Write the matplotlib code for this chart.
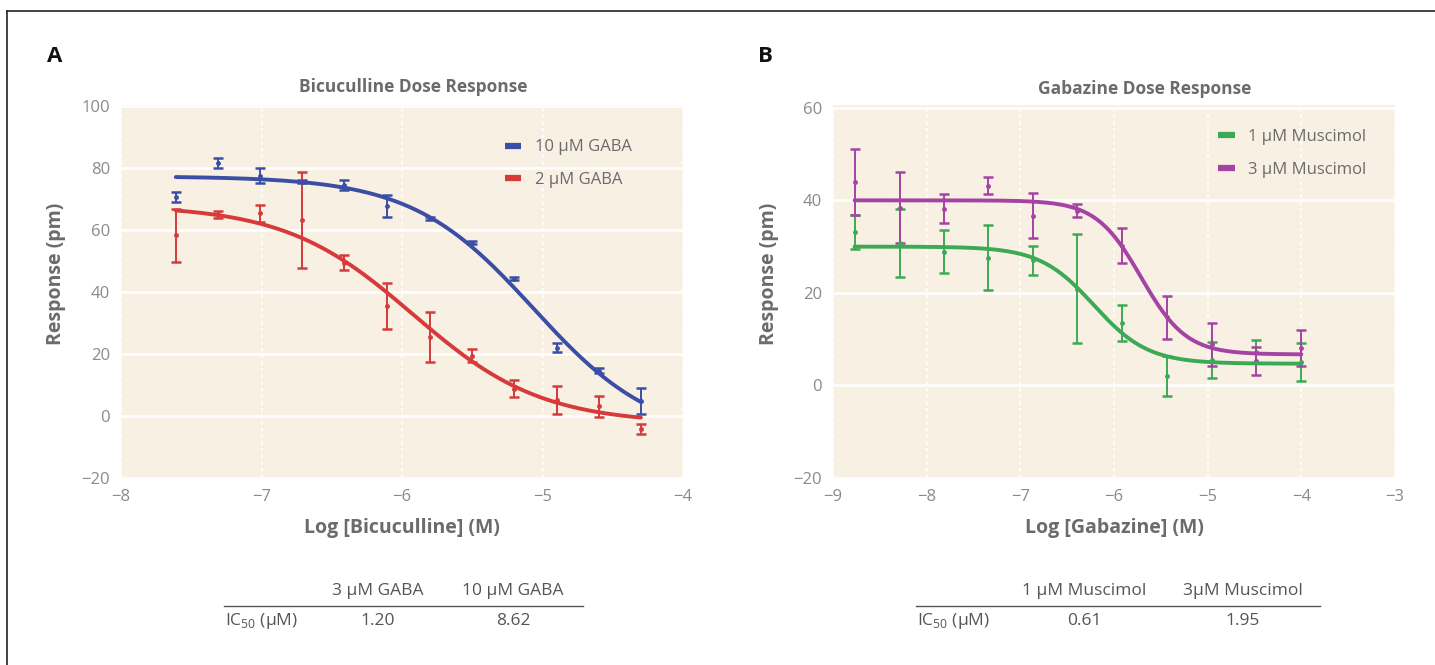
import matplotlib.pyplot as plt
from matplotlib.lines import Line2D
import numpy as np

plt.rcParams['font.family'] = ['Open Sans', 'DejaVu Sans']
plt.rcParams['mathtext.fontset'] = 'custom'
plt.rcParams['mathtext.rm'] = 'Open Sans'

W, H = 1435, 665

# panel A: bicuculline (2-fold dilutions, log M)
bic_x = [-7.61, -7.31, -7.01, -6.71, -6.41, -6.11, -5.80, -5.50, -5.20, -4.90, -4.60, -4.30]
gaba10_y = [70.5, 81.6, 77.5, 75.5, 74.5, 67.8, 63.8, 55.9, 44.2, 22.0, 14.6, 4.8]
gaba10_err = [1.6, 1.5, 2.5, 0.5, 1.5, 3.5, 0.5, 0.5, 0.5, 1.5, 0.8, 4.3]
gaba2_y = [58.3, 65.0, 65.4, 63.2, 49.5, 35.4, 25.5, 19.5, 8.8, 5.2, 3.2, -4.2]
gaba2_err = [8.5, 1.0, 2.7, 15.6, 2.4, 7.4, 8.0, 2.0, 2.8, 4.6, 3.4, 1.6]

# panel B: gabazine (3-fold dilutions, log M)
gab_x = [-8.77, -8.29, -7.82, -7.34, -6.86, -6.39, -5.91, -5.43, -4.95, -4.48, -4.00]
mus1_y = [33.1, 30.8, 28.9, 27.6, 27.0, 20.9, 13.5, 2.0, 5.5, 7.3, 5.1]
mus1_err = [3.7, 7.4, 4.7, 7.0, 3.1, 11.8, 3.9, 4.3, 3.8, 2.5, 4.1]
mus3_y = [44.0, 38.4, 38.2, 43.2, 36.7, 37.8, 30.2, 14.7, 8.9, 5.2, 8.0]
mus3_err = [7.1, 7.7, 3.1, 1.8, 4.9, 1.3, 3.8, 4.7, 4.6, 3.0, 3.9]

# fitted curves: top, bottom, log IC50, hill slope
gaba10_fit = (77.3, -8.0, -5.064, 1.0)
gaba2_fit = (68.0, -2.5, -5.921, 0.95)
mus1_fit = (30.0, 4.7, -6.215, 1.5)
mus3_fit = (40.0, 6.7, -5.710, 1.8)

# IC50 tables
tab_a_cols = ['3 µM GABA', '10 µM GABA']
tab_a_vals = ['1.20', '8.62']
tab_b_cols = ['1 µM Muscimol', '3µM Muscimol']
tab_b_vals = ['0.61', '1.95']

BLUE = '#3b4ea6'
RED = '#d63a3a'
GREEN = '#3caa55'
PURPLE = '#a443a4'
BG = '#f9f0e4'
LABEL = '#6b6b6b'
TICK = '#8a8a8a'


def hill(x, fit):
    top, bottom, logic50, n = fit
    return bottom + (top - bottom) / (1 + 10 ** ((x - logic50) * n))


def draw_series(ax, x, y, err, fit, color, label):
    ax.errorbar(x, y, yerr=err, fmt='o', ms=2.5, color=color, elinewidth=1.4,
                capsize=3.5, capthick=1.8, zorder=3)
    xs = np.linspace(min(x), max(x), 200)
    ax.plot(xs, hill(xs, fit), color=color, lw=2.8, label=label, zorder=4,
            solid_capstyle='round')


def style_axes(ax, xlim, ylim, xticks, yticks):
    ax.set_facecolor(BG)
    ax.set_xlim(*xlim)
    ax.set_ylim(*ylim)
    ax.set_xticks(xticks)
    ax.set_yticks(yticks)
    for s in ax.spines.values():
        s.set_visible(False)
    ax.tick_params(length=0, labelsize=12, labelcolor=TICK, pad=8)
    ax.grid(axis='y', color='white', lw=1.8, ls='-')
    ax.grid(axis='x', color='white', lw=1.2, ls=(0, (2, 2)))
    ax.set_axisbelow(True)


fig = plt.figure(figsize=(W / 100, H / 100), dpi=100)
fig.patch.set_facecolor('white')

axA = fig.add_axes([121 / W, 1 - 478 / H, 562 / W, 373 / H])
axB = fig.add_axes([833 / W, 1 - 478 / H, 562 / W, 373 / H])

style_axes(axA, (-8, -4), (-20, 100.3), range(-8, -3), range(-20, 101, 20))
style_axes(axB, (-9, -3), (-20, 60.6), range(-9, -2), range(-20, 61, 20))

draw_series(axA, bic_x, gaba10_y, gaba10_err, gaba10_fit, BLUE, '10 µM GABA')
draw_series(axA, bic_x, gaba2_y, gaba2_err, gaba2_fit, RED, '2 µM GABA')
draw_series(axB, gab_x, mus1_y, mus1_err, mus1_fit, GREEN, '1 µM Muscimol')
draw_series(axB, gab_x, mus3_y, mus3_err, mus3_fit, PURPLE, '3 µM Muscimol')

for ax, title, xlabel, tx, ty, lx, lgx, lgy in [
        (axA, 'Bicuculline Dose Response', 'Log [Bicuculline] (M)', 0.52, 1.048, -0.098, 0.668, 0.93),
        (axB, 'Gabazine Dose Response', 'Log [Gabazine] (M)', 0.555, 1.043, -0.096, 0.67, 0.958)]:
    ax.text(tx, ty, title, transform=ax.transAxes, ha='center', va='center',
            fontsize=12.5, fontweight='bold', color=LABEL)
    ax.set_xlabel(xlabel, fontsize=14, fontweight='bold', color=LABEL)
    ax.xaxis.set_label_coords(0.5, -0.107)
    ax.set_ylabel('Response (pm)', fontsize=14, fontweight='bold', color=LABEL)
    ax.yaxis.set_label_coords(lx, 0.547)
    leg = ax.legend(loc='upper left', bbox_to_anchor=(lgx, lgy), frameon=False,
                    fontsize=12, handlelength=1.0, handletextpad=0.8,
                    labelspacing=1.0, borderpad=0)
    for t in leg.get_texts():
        t.set_color(LABEL)
    for h in leg.legend_handles:
        h.set_linewidth(4.5)
        h.set_solid_capstyle('butt')

# panel letters
fig.text(55 / W, 1 - 57 / H, 'A', fontsize=16, fontweight='bold', color='#111',
         ha='center', va='center')
fig.text(765 / W, 1 - 57 / H, 'B', fontsize=16, fontweight='bold', color='#111',
         ha='center', va='center')

# IC50 tables
for cols, vals, x0, x1, cx in [(tab_a_cols, tab_a_vals, 224, 583, (378, 513)),
                               (tab_b_cols, tab_b_vals, 916, 1320, (1084, 1243))]:
    for c, v, x in zip(cols, vals, cx):
        fig.text(x / W, 1 - 591 / H, c, fontsize=12.5, color='#555', ha='center', va='center')
        fig.text(x / W, 1 - 621 / H, v, fontsize=12.5, color='#555', ha='center', va='center')
    fig.add_artist(Line2D([x0 / W, x1 / W], [1 - 606 / H] * 2, color='#555', lw=1.0))
    fig.text((x0 + 1) / W, 1 - 621 / H, r'IC$_{50}$ (µM)', fontsize=12.5, color='#555',
             ha='left', va='center')

# frame lines
fig.add_artist(Line2D([7 / W, 1], [1 - 11 / H] * 2, color='#222', lw=1.2))
fig.add_artist(Line2D([7 / W, 7 / W], [0, 1 - 11 / H], color='#222', lw=1.2))

fig.savefig('out.png', dpi=100, facecolor='white')
